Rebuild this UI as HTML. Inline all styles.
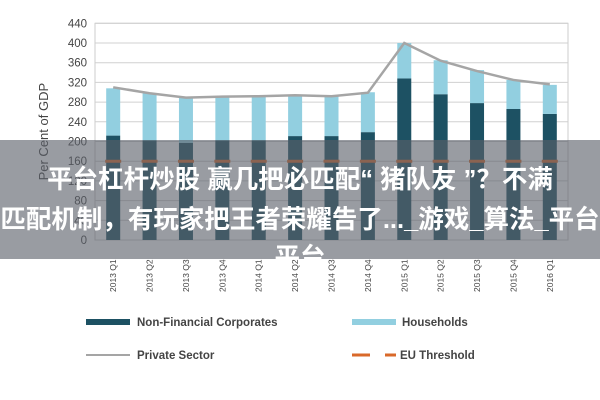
<!DOCTYPE html>
<html><head><meta charset="utf-8"><style>
body{margin:0;width:600px;height:400px;overflow:hidden;background:#fff;position:relative;font-family:"Liberation Sans",sans-serif}
svg{position:absolute;left:0;top:0}
.band{position:absolute;left:0;top:140px;width:600px;height:119px;background:rgba(90,95,105,0.62)}
.cap{position:absolute;left:-20px;width:640px;text-align:center;color:#fff;font-weight:bold;font-size:25.5px;line-height:38px;font-family:"Liberation Sans","Noto Sans CJK SC",sans-serif;white-space:nowrap}
</style></head><body>
<svg id="chart" width="600" height="400"></svg>
<div class="band"></div>
<div class="cap" style="top:161px">平台杠杆炒股 赢几把必匹配“ 猪队友 ”？不满</div>
<div class="cap" style="top:201px">匹配机制，有玩家把王者荣耀告了..._游戏_算法_平台</div>
<div class="cap" style="top:239px">平台</div>
<script>
const categories=["2013 Q1","2013 Q2","2013 Q3","2013 Q4","2014 Q1","2014 Q2","2014 Q3","2014 Q4","2015 Q1","2015 Q2","2015 Q3","2015 Q4","2016 Q1"];
const corporates=[212,202,197,202,202,211,211,219,328,296,278,266,256];
const households=[96,96,93,90,90,83,82,81,72,69,67,59,59];
const privateSector=[310,298,289,291,292,294,292,299,400,364,343,325,316];
const threshold=[160,160,160,160,160,160,160,160,160,160,160,160,160];
const yTicks=[0,40,80,120,160,200,240,280,320,360,400,440];
const NS="http://www.w3.org/2000/svg";
const svg=document.getElementById('chart');
const x0=95,x1=568,yb=240,k=0.4925;
const step=(x1-x0)/categories.length;
const X=i=>x0+step*(i+0.5);
const Y=v=>yb-v*k;
function mk(t,a,p){const e=document.createElementNS(NS,t);for(const n in a)e.setAttribute(n,a[n]);(p||svg).appendChild(e);return e;}
const frame=mk('rect',{x:x0,y:Y(440),width:x1-x0,height:yb-Y(440),fill:'#fff',stroke:'#ccc'});


yTicks.forEach(v=>{
 const g=mk('line',{x1:x0,x2:x1,y1:Y(v),y2:Y(v),stroke:'#d0d0d0'});
 
 
 const t=mk('text',{x:x0-8,y:Y(v)+4,'text-anchor':'end','font-size':11.5,fill:'#444'});
 t.textContent=v;
 
 
});
const yt=mk('text',{x:0,y:0,transform:'translate(48,'+Y(220)+') rotate(-90)','text-anchor':'middle','font-size':13,fill:'#444'});
yt.textContent='Per Cent of GDP';


const bw=14;
categories.forEach((c,i)=>{
 const b1=mk('rect',{x:X(i)-bw/2,y:Y(corporates[i]),width:bw,height:corporates[i]*k,fill:'#1d5163'});
 
 
 const b2=mk('rect',{x:X(i)-bw/2,y:Y(corporates[i]+households[i]),width:bw,height:households[i]*k,fill:'#92cfe0'});
 
 
 const th=mk('line',{x1:X(i)-8,x2:X(i)+8,y1:Y(threshold[i]),y2:Y(threshold[i]),stroke:'#d9692a','stroke-width':3});
 
 
 const t=mk('text',{x:0,y:0,transform:'translate('+(X(i)+3)+',292) rotate(-90)','font-size':8.5,fill:'#444'});
 t.textContent=c;
 
 
});
const pl=mk('polyline',{points:privateSector.map((v,i)=>X(i)+','+Y(v)).join(' '),fill:'none',stroke:'#a5a5a5','stroke-width':2.5});


function leg(name,sw,tx,ty,label){
 const g=mk('g',{});
 
 
 sw(g);
 const t=mk('text',{x:tx,y:ty+4,'font-size':11.5,'font-weight':'bold',fill:'#444'},g);
 t.textContent=label;
}
leg('legend-corporates',g=>mk('rect',{x:86,y:319,width:44,height:6,fill:'#1d5163'},g),137,322,'Non-Financial Corporates');
leg('legend-households',g=>mk('rect',{x:352,y:319,width:44,height:6,fill:'#92cfe0'},g),402,322,'Households');
leg('legend-private-sector',g=>mk('line',{x1:86,x2:130,y1:355,y2:355,stroke:'#a5a5a5','stroke-width':2},g),137,355,'Private Sector');
leg('legend-eu-threshold',g=>{mk('line',{x1:352,x2:370,y1:355,y2:355,stroke:'#d9692a','stroke-width':3},g);mk('line',{x1:385,x2:396,y1:355,y2:355,stroke:'#d9692a','stroke-width':3},g);},400,355,'EU Threshold');
</script>
</body></html>
